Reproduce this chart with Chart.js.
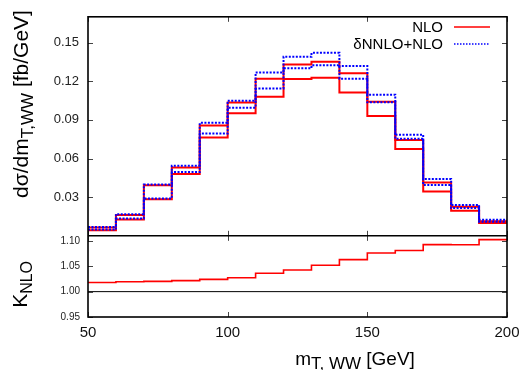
<!DOCTYPE html>
<html>
<head>
<meta charset="utf-8">
<script src="https://cdn.jsdelivr.net/npm/chart.js@4.4.0/dist/chart.umd.min.js"></script>
<style>
  html, body { margin: 0; padding: 0; background: #fff; }
  #wrap { position: relative; width: 521px; height: 370px; }
</style>
</head>
<body>
<div id="wrap"><canvas id="chart" width="521" height="370"></canvas></div>
<script>
// bin edges (GeV), 10 GeV wide
const binEdges = [50, 60, 70, 80, 90, 100, 110, 120, 130, 140, 150, 160, 170, 180, 190, 200]

// NLO band (fb/GeV)
const nloUpper = [0.0065, 0.0162, 0.0392, 0.0531, 0.0857, 0.1034, 0.1220, 0.1330, 0.1351, 0.1261, 0.1041, 0.0744, 0.0414, 0.0225, 0.0113]
const nloLower = [0.0044, 0.0126, 0.0284, 0.0480, 0.0764, 0.0951, 0.1080, 0.1218, 0.1226, 0.1113, 0.0930, 0.0674, 0.0344, 0.0195, 0.0100]

// dNNLO+NLO band (fb/GeV)
const nnloUpper = [0.0069, 0.0168, 0.0398, 0.0544, 0.0877, 0.1049, 0.1267, 0.1390, 0.1420, 0.1318, 0.1095, 0.0784, 0.0441, 0.0240, 0.0125]
const nnloLower = [0.0049, 0.0134, 0.0290, 0.0495, 0.0795, 0.0995, 0.1144, 0.1300, 0.1323, 0.1220, 0.1036, 0.0754, 0.0395, 0.0215, 0.0110]

// K factor, lower panel
const kNlo = [1.0180, 1.0196, 1.0203, 1.0216, 1.0242, 1.0275, 1.0362, 1.0425, 1.0520, 1.0630, 1.0760, 1.0810, 1.0927, 1.0925, 1.1025]
const unityX = [50, 200]
const unityY = [1, 1]

const xTicks = [50, 100, 150, 200]
const yTicksTop = [0.03, 0.06, 0.09, 0.12, 0.15]
const yTicksBottom = [0.95, 1.00, 1.05, 1.10]

const FONT = "'Liberation Sans', Arial, sans-serif"

// histogram steps: one point per left edge, plus the last edge
function steps(values){
    return binEdges.map((x, i) => ({x: x, y: values[Math.min(i, values.length - 1)]}))
}

function setTicks(list){
    return (scale) => { scale.ticks = list.map(v => ({value: v})) }
}

// gnuplot style box with inward ticks on every side
const frame = {
    id: 'frame',
    afterDatasetsDraw(chart){
        const ctx = chart.ctx
        const a = chart.chartArea
        const x = chart.scales.x, yt = chart.scales.y, yb = chart.scales.y2
        const mid = yt.bottom
        const t = 5
        ctx.save()
        ctx.strokeStyle = '#444'
        ctx.lineWidth = 1
        ctx.beginPath()
        for (const v of xTicks){
            const px = Math.round(x.getPixelForValue(v)) + 0.5
            ctx.moveTo(px, a.top); ctx.lineTo(px, a.top + t)
            ctx.moveTo(px, mid); ctx.lineTo(px, mid - t)
            ctx.moveTo(px, mid); ctx.lineTo(px, mid + t)
            ctx.moveTo(px, a.bottom); ctx.lineTo(px, a.bottom - t)
        }
        for (const v of yTicksTop){
            const py = Math.round(yt.getPixelForValue(v)) + 0.5
            ctx.moveTo(a.left, py); ctx.lineTo(a.left + t, py)
            ctx.moveTo(a.right, py); ctx.lineTo(a.right - t, py)
        }
        for (const v of yTicksBottom){
            const py = Math.round(yb.getPixelForValue(v)) + 0.5
            ctx.moveTo(a.left, py); ctx.lineTo(a.left + t, py)
            ctx.moveTo(a.right, py); ctx.lineTo(a.right - t, py)
        }
        ctx.stroke()
        ctx.strokeStyle = '#000'
        ctx.lineWidth = 1.6
        ctx.strokeRect(a.left, a.top, a.right - a.left, a.bottom - a.top)
        ctx.beginPath()
        ctx.moveTo(a.left, mid); ctx.lineTo(a.right, mid)
        ctx.stroke()
        ctx.restore()
    }
}

// text with subscripts, parts = [text, size, shift]
function richText(ctx, parts, cx, cy, angle){
    ctx.save()
    ctx.translate(cx, cy)
    ctx.rotate(angle)
    ctx.fillStyle = '#000'
    ctx.textBaseline = 'alphabetic'
    ctx.textAlign = 'left'
    let total = 0
    for (const p of parts){
        ctx.font = p[1] + 'px ' + FONT
        total += ctx.measureText(p[0]).width
    }
    let px = -total / 2
    for (const p of parts){
        ctx.font = p[1] + 'px ' + FONT
        ctx.fillText(p[0], px, p[2])
        px += ctx.measureText(p[0]).width
    }
    ctx.restore()
}

const titles = {
    id: 'titles',
    afterDraw(chart){
        const ctx = chart.ctx
        const yb = chart.scales.y2
        richText(ctx, [['dσ/dm', 21, 0], ['T,WW', 17, 5], [' [fb/GeV]', 21, 0]],
            28, 104, -Math.PI / 2)
        richText(ctx, [['K', 21, 0], ['NLO', 16, 5]],
            27, (yb.top + yb.bottom) / 2 + 8, -Math.PI / 2)
        richText(ctx, [['m', 19, 0], ['T, WW', 17, 4], [' [GeV]', 19, 0]],
            355, 365, 0)
    }
}

const legendBox = {
    id: 'legendBox',
    afterDraw(chart){
        const ctx = chart.ctx
        const rows = [
            {label: 'NLO', color: '#ff0000', dash: [], y: 27},
            {label: 'δNNLO+NLO', color: '#0000ff', dash: [1.5, 1.5], y: 44}
        ]
        ctx.save()
        ctx.font = '15px ' + FONT
        ctx.textAlign = 'right'
        ctx.textBaseline = 'middle'
        for (const r of rows){
            ctx.fillStyle = '#000'
            ctx.fillText(r.label, 443, r.y + 1)
            ctx.strokeStyle = r.color
            ctx.lineWidth = 1.5
            ctx.setLineDash(r.dash)
            ctx.beginPath()
            ctx.moveTo(454, r.y); ctx.lineTo(490, r.y)
            ctx.stroke()
        }
        ctx.restore()
    }
}

function bandLine(values, color, dash, order){
    return {
        data: steps(values),
        yAxisID: 'y',
        borderColor: color,
        borderWidth: 2,
        borderDash: dash,
        stepped: true,
        pointRadius: 0,
        fill: false,
        order: order
    }
}

const config = {
    type: 'line',
    data: {
        datasets: [
            bandLine(nnloUpper, '#0000ff', [2, 1.5], 0),
            bandLine(nnloLower, '#0000ff', [2, 1.5], 0),
            bandLine(nloUpper, '#ff0000', [], 1),
            bandLine(nloLower, '#ff0000', [], 1),
            {
                data: unityX.map((x, i) => ({x: x, y: unityY[i]})),
                yAxisID: 'y2',
                borderColor: '#000',
                borderWidth: 1,
                pointRadius: 0,
                order: 3
            },
            {
                data: steps(kNlo),
                yAxisID: 'y2',
                borderColor: '#ff0000',
                borderWidth: 1.6,
                stepped: true,
                pointRadius: 0,
                order: 2
            }
        ]
    },
    options: {
        responsive: false,
        animation: false,
        devicePixelRatio: 1,
        layout: {padding: {top: 14, right: 14, left: 0, bottom: 0}},
        plugins: {legend: {display: false}, tooltip: {enabled: false}},
        scales: {
            x: {
                type: 'linear', min: 50, max: 200,
                afterBuildTicks: setTicks(xTicks),
                afterFit: (s) => { s.height = 53; s.paddingLeft = 0; s.paddingRight = 0 },
                grid: {display: false, drawTicks: false},
                border: {display: false},
                ticks: {padding: 7, color: '#111', font: {family: FONT, size: 15}, maxRotation: 0}
            },
            y2: {
                type: 'linear', position: 'left', stack: 'panels', stackWeight: 82.1, weight: 0,
                min: 0.95, max: 1.11,
                afterBuildTicks: setTicks(yTicksBottom),
                afterFit: (s) => { s.width = 88 },
                grid: {display: false, drawTicks: false},
                border: {display: false},
                ticks: {padding: 8, color: '#222', font: {family: FONT, size: 10}, callback: (v) => v.toFixed(2)}
            },
            y: {
                type: 'linear', position: 'left', stack: 'panels', stackWeight: 221.5, weight: 1,
                min: 0, max: 0.17,
                afterBuildTicks: setTicks(yTicksTop),
                afterFit: (s) => { s.width = 88 },
                grid: {display: false, drawTicks: false},
                border: {display: false},
                ticks: {padding: 9, color: '#222', font: {family: FONT, size: 13}, callback: (v) => v.toFixed(2)}
            }
        }
    },
    plugins: [frame, titles, legendBox]
}

const chart = new Chart(document.getElementById('chart'), config)
</script>
</body>
</html>
